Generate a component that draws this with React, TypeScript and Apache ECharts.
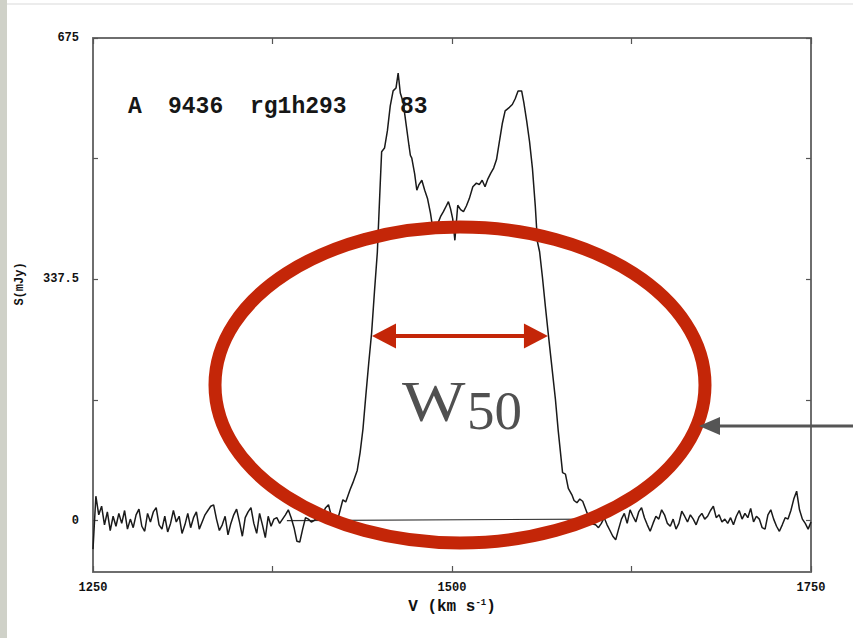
import React, { useEffect, useRef } from 'react';
import * as echarts from 'echarts';

// HI spectrum: velocity (km/s) and flux density S (mJy), in three segments
const noiseLeftV = [
  1250, 1252, 1254, 1256, 1258, 1260, 1262, 1264, 1266, 1268,
  1270, 1272, 1274, 1276, 1278, 1280, 1282, 1284, 1286, 1288,
  1290, 1292, 1294, 1296, 1298, 1300, 1302, 1304, 1306, 1308,
  1310, 1312, 1314, 1316, 1318, 1320, 1322, 1324, 1326, 1328,
  1330, 1332, 1334, 1336, 1338, 1340, 1342, 1344, 1346, 1348,
  1350, 1352, 1354, 1356, 1358, 1360, 1362, 1364, 1366, 1368,
  1370, 1372, 1374, 1376, 1378, 1380, 1382, 1384, 1386, 1388,
  1390, 1392, 1394, 1396, 1398, 1400, 1402, 1404, 1406, 1408,
  1410, 1412, 1414, 1416, 1418,
];
const noiseLeftS = [
  -40, 34, 8, 20, -6, 12, -14, 6, -8, 10,
  -4, 14, -12, 2, -10, 8, 16, -8, -15, 10,
  -2, 12, 18, -6, -12, 6, -16, -4, 14, -2,
  6, -18, -6, 10, -10, 4, 12, -12, -2, 8,
  14, 20, 22, 2, -14, -6, 6, -20, -4, 8,
  16, -2, -22, 4, 12, 18, -4, -18, 10, -6,
  -24, 6, -8, 2, 4, -4, 2, 8, 15, 4,
  -10, -29, -30, -12, 4, 2, -2, 0, 4, 2,
  10, 18, 22, 6, 5,
];
const profileV = [
  1421, 1424, 1426, 1429, 1431, 1434, 1436, 1438, 1440, 1442,
  1444, 1446, 1448, 1450, 1451, 1453, 1455, 1457, 1459, 1461,
  1462.5, 1464, 1466, 1468, 1470, 1471, 1472, 1474, 1475.5, 1477,
  1479, 1481, 1483, 1485, 1486.5, 1488, 1490, 1492, 1494, 1496,
  1497.5, 1499, 1500.5, 1502, 1504, 1506, 1508, 1510, 1512, 1514.5,
  1517, 1519, 1521, 1523, 1525, 1527, 1529, 1531, 1533, 1535,
  1537, 1540, 1542, 1544, 1546, 1548.5, 1550, 1552, 1554, 1556,
  1558, 1559.5, 1561, 1563, 1565, 1567, 1569, 1572, 1574, 1577,
  1579, 1581, 1583.5, 1585, 1587, 1589, 1591, 1594, 1596, 1598,
];
const profileS = [
  6, 29, 26, 43, 53, 70, 95, 128, 175, 220,
  262, 320, 375, 470, 516, 521, 545, 580, 601, 605,
  626, 598, 585, 555, 525, 511, 507, 485, 462, 470,
  476, 462, 450, 430, 410, 404, 415, 425, 432, 440,
  446, 436, 422, 392, 441, 435, 432, 440, 450, 467,
  472, 470, 476, 467, 478, 486, 493, 505, 530, 555,
  573, 578, 582, 590, 601, 601, 585, 559, 530, 493,
  440, 390, 376, 340, 300, 262, 225, 170, 125, 67,
  65, 45, 36, 28, 25, 30, 27, 11, 2, -5,
];
const noiseRightV = [
  1600, 1602, 1604, 1606, 1608, 1610, 1612, 1614, 1616, 1618,
  1620, 1622, 1624, 1626, 1628, 1630, 1632, 1634, 1636, 1638,
  1640, 1642, 1644, 1646, 1648, 1650, 1652, 1654, 1656, 1658,
  1660, 1662, 1664, 1666, 1668, 1670, 1672, 1674, 1676, 1678,
  1680, 1682, 1684, 1686, 1688, 1690, 1692, 1694, 1696, 1698,
  1700, 1702, 1704, 1706, 1708, 1710, 1712, 1714, 1716, 1718,
  1720, 1722, 1724, 1726, 1728, 1730, 1732, 1734, 1736, 1738,
  1740, 1742, 1744, 1746, 1748, 1750,
];
const noiseRightS = [
  -6, -10, -4, 4, -6, -14, -22, -27, -12, 2,
  10, -4, 15, 6, -2, 12, 18, 4, -6, -15,
  -4, 6, 2, 15, 8, -4, -8, 2, -12, -4,
  13, 6, -2, 8, 2, -6, 5, 10, 2, 6,
  14, 20, 4, 8, -2, 2, -4, 4, -6, 6,
  14, 2, 10, 4, 17, -2, 6, 2, -10, -12,
  8, 15, 2, -8, -15, -6, 4, 2, 14, 30,
  41, 15, 2, -4, -12, -2,
];
// fitted baseline under the profile
const baselineV = [1385, 1600];
const baselineS = [0, 2];

const xLabelValues = [1250, 1500, 1750];
const yTickValues = [0, 168.75, 337.5, 506.25, 675];
const yLabelValues = [0, 337.5, 675];
const headerWords = ['A', '9436', 'rg1h293', '83'];
const headerX = [128, 168, 250, 400];

// W50 annotation: half-maximum level and edges
const w50Level = 258;
const w50Left = 1444.3;
const w50Right = 1566.8;

const RED = '#c42608';

export default function App() {
  const ref = useRef<HTMLDivElement>(null);
  useEffect(() => {
    const chart = echarts.init(ref.current as HTMLDivElement, null, { renderer: 'svg' });
    const velocity = [...noiseLeftV, ...profileV, ...noiseRightV];
    const flux = [...noiseLeftS, ...profileS, ...noiseRightS];
    const data = velocity.map((v, i) => [v, flux[i]]);
    const baseline = baselineV.map((v, i) => [v, baselineS[i]]);
    const axisLineStyle = { color: '#6e6e6e', width: 2 };
    const tickStyle = { color: '#555', width: 1.2 };
    const labelFont = {
      color: '#111',
      fontSize: 12,
      fontWeight: 'bold' as const,
      fontFamily: 'Liberation Mono',
    };
    chart.setOption({
      animation: false,
      backgroundColor: '#ffffff',
      grid: { left: 93, right: 42, top: 38, bottom: 66 },
      xAxis: [
        {
          type: 'value',
          min: 1250,
          max: 1750,
          interval: 125,
          position: 'bottom',
          axisLine: { onZero: false, lineStyle: axisLineStyle },
          axisTick: { inside: true, length: 6, lineStyle: tickStyle },
          axisLabel: {
            ...labelFont,
            margin: 10,
            showMinLabel: true,
            showMaxLabel: true,
            formatter: (v: number) => (xLabelValues.includes(v) ? String(v) : ''),
          },
          splitLine: { show: false },
        },
        {
          type: 'value',
          min: 1250,
          max: 1750,
          interval: 125,
          position: 'top',
          axisLine: { onZero: false, lineStyle: axisLineStyle },
          axisTick: { inside: true, length: 6, lineStyle: tickStyle },
          axisLabel: { show: false },
          splitLine: { show: false },
        },
      ],
      yAxis: [
        {
          type: 'value',
          min: -72,
          max: 675,
          position: 'left',
          axisLine: { show: true, onZero: false, lineStyle: axisLineStyle },
          axisTick: { show: true, inside: true, length: 5, lineStyle: tickStyle, customValues: yTickValues },
          axisLabel: {
            ...labelFont,
            margin: 14,
            customValues: yLabelValues,
            formatter: (v: number) => String(v),
          },
          splitLine: { show: false },
        },
        {
          type: 'value',
          min: -72,
          max: 675,
          position: 'right',
          axisLine: { show: true, onZero: false, lineStyle: axisLineStyle },
          axisTick: { show: true, inside: true, length: 5, lineStyle: tickStyle, customValues: yTickValues },
          axisLabel: { show: false },
          splitLine: { show: false },
        },
      ],
      series: [
        {
          type: 'line',
          data,
          showSymbol: false,
          symbol: 'none',
          silent: true,
          lineStyle: { color: '#1a1a1a', width: 1.5 },
          z: 3,
        },
        {
          type: 'line',
          data: baseline,
          showSymbol: false,
          symbol: 'none',
          silent: true,
          lineStyle: { color: '#333', width: 1.2 },
          z: 2,
        },
      ],
    });

    const pL = chart.convertToPixel({ seriesIndex: 0 }, [w50Left, w50Level]) as number[];
    const pR = chart.convertToPixel({ seriesIndex: 0 }, [w50Right, w50Level]) as number[];
    const head = 24;
    const half = 12.5;

    const graphic: any[] = [
      { type: 'rect', shape: { x: 0, y: 0, width: 7, height: 638 }, style: { fill: '#cfd1c8' }, z: 1 },
      { type: 'rect', shape: { x: 7, y: 3, width: 846, height: 2 }, style: { fill: '#ececec' }, z: 1 },
      ...headerWords.map((w, i) => ({
        type: 'text',
        x: headerX[i],
        y: 107,
        z: 1,
        style: {
          text: w,
          fill: '#161616',
          font: 'bold 23px "Liberation Mono"',
          verticalAlign: 'middle',
          align: 'left',
        },
      })),
      {
        type: 'text',
        x: 20,
        y: 284,
        rotation: Math.PI / 2,
        z: 1,
        style: {
          text: 'S(mJy)',
          fill: '#111',
          font: 'bold 12px "Liberation Mono"',
          align: 'center',
          verticalAlign: 'middle',
        },
      },
      {
        type: 'text',
        x: 452,
        y: 607,
        z: 1,
        style: {
          text: '{a|V (km s}{b|-1}{a|)}',
          align: 'center',
          verticalAlign: 'middle',
          rich: {
            a: { fontFamily: 'Liberation Mono', fontWeight: 'bold', fontSize: 16, fill: '#111', color: '#111' },
            b: {
              fontFamily: 'Liberation Mono',
              fontWeight: 'bold',
              fontSize: 9,
              fill: '#111',
              color: '#111',
              verticalAlign: 'top',
              padding: [0, 0, 8, 0],
            },
          },
        },
      },
      // red ellipse
      {
        type: 'ellipse',
        shape: { cx: 460, cy: 385, rx: 245, ry: 158 },
        style: { fill: 'none', stroke: RED, lineWidth: 13 },
        z: 100,
      },
      // W50 double arrow
      {
        type: 'line',
        shape: { x1: pL[0] + head - 2, y1: pL[1], x2: pR[0] - head + 2, y2: pR[1] },
        style: { stroke: RED, lineWidth: 4 },
        z: 100,
      },
      {
        type: 'polygon',
        shape: { points: [[pL[0], pL[1]], [pL[0] + head, pL[1] - half], [pL[0] + head, pL[1] + half]] },
        style: { fill: RED },
        z: 100,
      },
      {
        type: 'polygon',
        shape: { points: [[pR[0], pR[1]], [pR[0] - head, pR[1] - half], [pR[0] - head, pR[1] + half]] },
        style: { fill: RED },
        z: 100,
      },
      // W50 label
      {
        type: 'text',
        x: 402,
        y: 402,
        scaleX: 1.2,
        z: 100,
        style: {
          text: 'W',
          fill: '#505050',
          font: '56px "Liberation Serif"',
          align: 'left',
          verticalAlign: 'middle',
        },
      },
      {
        type: 'text',
        x: 467,
        y: 410,
        z: 100,
        style: {
          text: '50',
          fill: '#505050',
          font: '55px "Liberation Serif"',
          align: 'left',
          verticalAlign: 'middle',
        },
      },
      // grey pointer arrow
      {
        type: 'line',
        shape: { x1: 716, y1: 426, x2: 853, y2: 426 },
        style: { stroke: '#555', lineWidth: 3 },
        z: 100,
      },
      {
        type: 'polygon',
        shape: { points: [[699, 426], [720, 417], [720, 435]] },
        style: { fill: '#555' },
        z: 100,
      },
    ];
    chart.setOption({ graphic });

    return () => {
      chart.dispose();
    };
  }, []);
  return <div ref={ref} style={{ position: 'fixed', left: 0, top: 0, width: 853, height: 638 }} />;
}
